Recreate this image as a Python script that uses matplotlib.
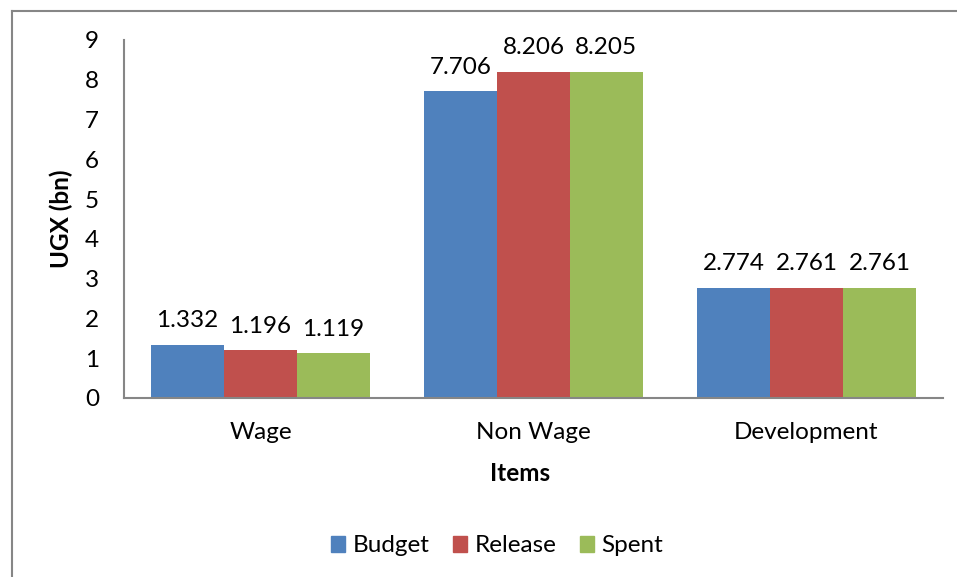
import matplotlib
matplotlib.use("Agg")
import matplotlib.pyplot as plt
import numpy as np
from matplotlib.lines import Line2D

categories = ["Wage", "Non Wage", "Development"]
series_names = ["Budget", "Release", "Spent"]
budget = [1.332, 7.706, 2.774]
release = [1.196, 8.206, 2.761]
spent = [1.119, 8.205, 2.761]
colors = ["#4F81BD", "#C0504D", "#9BBB59"]
y_ticks = [0, 1, 2, 3, 4, 5, 6, 7, 8, 9]

plt.rcParams["font.family"] = ["Lato", "DejaVu Sans"]
FS = 17.5

fig = plt.figure(figsize=(9.57, 5.77), dpi=100)
ax = fig.add_axes([124 / 957, 1 - 398 / 577, (943 - 124) / 957, (398 - 40) / 577])

x = np.arange(len(categories))
width = 0.267
for i, (vals, name, col) in enumerate(zip([budget, release, spent], series_names, colors)):
    pos = x + (i - 1) * width
    ax.bar(pos, vals, width, color=col, label=name, linewidth=0)
    for xp, v in zip(pos, vals):
        ax.annotate(f"{v:.3f}", (xp, v), xytext=(0, 10), textcoords="offset points",
                    ha="center", va="bottom", fontsize=FS, color="#000000")

ax.set_xlim(-0.5, 2.5)
ax.set_ylim(0, 9)
ax.set_yticks(y_ticks)
ax.set_xticks(x)
ax.set_xticklabels(categories)
ax.tick_params(axis="both", length=0, labelsize=FS, colors="#000000")
ax.tick_params(axis="y", pad=18)
ax.tick_params(axis="x", pad=17)
for s in ["top", "right"]:
    ax.spines[s].set_visible(False)
for s in ["left", "bottom"]:
    ax.spines[s].set_color("#868686")
    ax.spines[s].set_linewidth(1.5)

ax.set_ylabel("UGX (bn)", fontsize=FS, fontweight="bold", va="center")
ax.yaxis.set_label_coords(-0.076, 0.5)
ax.set_xlabel("Items", fontsize=FS, fontweight="bold", va="center")
ax.xaxis.set_label_coords(0.483, -0.212)

handles = [plt.Rectangle((0, 0), 1, 1, color=c) for c in colors]
fig.legend(handles, series_names, loc="center", bbox_to_anchor=(497 / 957, 1 - 546 / 577),
           ncol=3, frameon=False, fontsize=FS, handlelength=0.6, handleheight=0.6,
           handletextpad=0.3, columnspacing=0.95)

# chart area frame (left and top edges)
fig.add_artist(Line2D([12 / 957, 12 / 957], [0, 1 - 11 / 577], transform=fig.transFigure,
                      color="#868686", linewidth=1.5))
fig.add_artist(Line2D([12 / 957, 1], [1 - 11 / 577, 1 - 11 / 577], transform=fig.transFigure,
                      color="#868686", linewidth=1.5))

fig.savefig("out.png", dpi=100)
